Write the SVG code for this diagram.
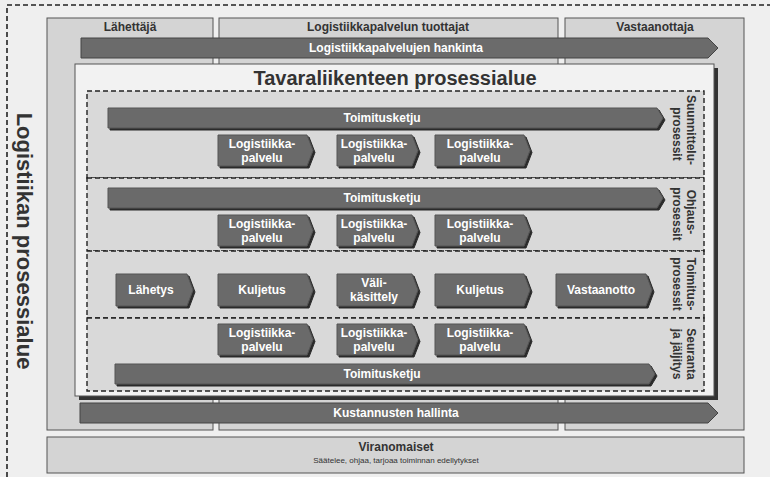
<svg xmlns="http://www.w3.org/2000/svg" width="770" height="477" viewBox="0 0 770 477">
<defs>
<style>
text{font-family:"Liberation Sans",Arial,sans-serif;}
.hdr{font-size:12px;font-weight:bold;fill:#333;text-anchor:middle;}
.wt{font-size:12px;font-weight:bold;fill:#fff;text-anchor:middle;}
.col{fill:#d4d4d4;stroke:#555;stroke-width:1;}
.arr{fill:#6b6b6b;stroke:#444;stroke-width:1;}
.box{fill:#6b6b6b;stroke:#555;stroke-width:1;filter:url(#ds);}
.sec{fill:#d9d9d9;stroke:#222;stroke-width:1.4;stroke-dasharray:5 3;}
.vl{font-size:12px;font-weight:bold;fill:#333;text-anchor:middle;}
</style>
<filter id="ds" x="-5%" y="-10%" width="115%" height="130%">
<feFlood flood-color="#2a2a2a"/>
<feComposite in2="SourceAlpha" operator="in"/>
<feOffset dx="2" dy="2"/>
<feMerge><feMergeNode/><feMergeNode in="SourceGraphic"/></feMerge>
</filter>
</defs>
<rect x="0" y="0" width="770" height="477" fill="#efefef"/>
<rect x="7" y="5" width="800" height="500" fill="none" stroke="#222" stroke-width="1.6" stroke-dasharray="5 3"/>
<g id="label-logistiikan">
<text transform="translate(17,241) rotate(90)" text-anchor="middle" font-size="22" font-weight="bold" fill="#333">Logistiikan prosessialue</text>
</g>
<g id="col-lahettaja">
<rect class="col" x="47" y="18" width="166" height="412"/>
<text class="hdr" x="130" y="31">Lähettäjä</text>
</g>
<g id="col-tuottajat">
<rect class="col" x="219" y="18" width="339" height="412"/>
<text class="hdr" x="388" y="31">Logistiikkapalvelun tuottajat</text>
</g>
<g id="col-vastaanottaja">
<rect class="col" x="565" y="18" width="179" height="412"/>
<text class="hdr" x="655" y="31">Vastaanottaja</text>
</g>
<g id="hankinta">
<polygon class="arr" points="81,38 708,38 718,48 708,58 81,58"/>
<text class="wt" x="396" y="52">Logistiikkapalvelujen hankinta</text>
</g>
<g id="panel">
<rect x="79" y="68" width="639" height="332" fill="#333"/>
<rect x="75" y="64" width="639" height="332" fill="#f2f2f2" stroke="#555" stroke-width="1"/>
<text x="395" y="85" text-anchor="middle" font-size="20" font-weight="bold" fill="#333">Tavaraliikenteen prosessialue</text>
</g>
<g id="sec-suunnittelu">
<rect class="sec" x="87" y="91" width="617" height="87"/>
<text class="vl" transform="translate(687,130) rotate(90)">Suunnittelu-</text>
<text class="vl" transform="translate(673,134) rotate(90)">prosessit</text>
</g>
<g id="sec-ohjaus">
<rect class="sec" x="87" y="178" width="617" height="73"/>
<text class="vl" transform="translate(687,212) rotate(90)">Ohjaus-</text>
<text class="vl" transform="translate(673,214) rotate(90)">prosessit</text>
</g>
<g id="sec-toimitus">
<rect class="sec" x="87" y="251" width="617" height="67"/>
<text class="vl" transform="translate(687,284) rotate(90)">Toimitus-</text>
<text class="vl" transform="translate(673,284) rotate(90)">prosessit</text>
</g>
<g id="sec-seuranta">
<rect class="sec" x="87" y="318" width="617" height="73"/>
<text class="vl" transform="translate(687,354) rotate(90)">Seuranta</text>
<text class="vl" transform="translate(673,354) rotate(90)">ja jäljitys</text>
</g>
<g id="toimitusketju-1">
<polygon class="box" points="108,108 657,108 663,118 657,128 108,128"/>
<text class="wt" x="382" y="122">Toimitusketju</text>
</g>
<g id="lp-1a">
<polygon class="box" points="218,135 307,135 313,150.5 307,166 218,166"/>
<text class="wt" x="262" y="148">Logistiikka-</text>
<text class="wt" x="262" y="162">palvelu</text>
</g>
<g id="lp-1b">
<polygon class="box" points="337,135 412,135 418,150.5 412,166 337,166"/>
<text class="wt" x="374" y="148">Logistiikka-</text>
<text class="wt" x="374" y="162">palvelu</text>
</g>
<g id="lp-1c">
<polygon class="box" points="435,135 524,135 530,150.5 524,166 435,166"/>
<text class="wt" x="480" y="148">Logistiikka-</text>
<text class="wt" x="480" y="162">palvelu</text>
</g>
<g id="toimitusketju-2">
<polygon class="box" points="108,188 657,188 663,198 657,208 108,208"/>
<text class="wt" x="382" y="202">Toimitusketju</text>
</g>
<g id="lp-2a">
<polygon class="box" points="218,215 307,215 313,230.5 307,246 218,246"/>
<text class="wt" x="262" y="228">Logistiikka-</text>
<text class="wt" x="262" y="242">palvelu</text>
</g>
<g id="lp-2b">
<polygon class="box" points="337,215 412,215 418,230.5 412,246 337,246"/>
<text class="wt" x="374" y="228">Logistiikka-</text>
<text class="wt" x="374" y="242">palvelu</text>
</g>
<g id="lp-2c">
<polygon class="box" points="435,215 524,215 530,230.5 524,246 435,246"/>
<text class="wt" x="480" y="228">Logistiikka-</text>
<text class="wt" x="480" y="242">palvelu</text>
</g>
<g id="lahetys">
<polygon class="box" points="116,274 187,274 193,290 187,306 116,306"/>
<text class="wt" x="151" y="294">Lähetys</text>
</g>
<g id="kuljetus-1">
<polygon class="box" points="218,274 307,274 313,290 307,306 218,306"/>
<text class="wt" x="262" y="294">Kuljetus</text>
</g>
<g id="valikasittely">
<polygon class="box" points="337,274 412,274 418,290 412,306 337,306"/>
<text class="wt" x="374" y="287">Väli-</text>
<text class="wt" x="374" y="301">käsittely</text>
</g>
<g id="kuljetus-2">
<polygon class="box" points="435,274 524,274 530,290 524,306 435,306"/>
<text class="wt" x="480" y="294">Kuljetus</text>
</g>
<g id="vastaanotto">
<polygon class="box" points="556,274 646,274 652,290 646,306 556,306"/>
<text class="wt" x="601" y="294">Vastaanotto</text>
</g>
<g id="lp-4a">
<polygon class="box" points="218,324 307,324 313,339.5 307,355 218,355"/>
<text class="wt" x="262" y="337">Logistiikka-</text>
<text class="wt" x="262" y="351">palvelu</text>
</g>
<g id="lp-4b">
<polygon class="box" points="337,324 412,324 418,339.5 412,355 337,355"/>
<text class="wt" x="374" y="337">Logistiikka-</text>
<text class="wt" x="374" y="351">palvelu</text>
</g>
<g id="lp-4c">
<polygon class="box" points="435,324 524,324 530,339.5 524,355 435,355"/>
<text class="wt" x="480" y="337">Logistiikka-</text>
<text class="wt" x="480" y="351">palvelu</text>
</g>
<g id="toimitusketju-4">
<polygon class="box" points="115,364 649,364 655,374 649,384 115,384"/>
<text class="wt" x="382" y="378">Toimitusketju</text>
</g>
<g id="kustannukset">
<polygon class="arr" points="80,403 708,403 718,413 708,423 80,423"/>
<text class="wt" x="396" y="417">Kustannusten hallinta</text>
</g>
<g id="viranomaiset">
<rect class="col" x="47" y="437" width="697" height="36"/>
<text class="hdr" x="396" y="451">Viranomaiset</text>
<text x="396" y="463" text-anchor="middle" font-size="8" fill="#333">Säätelee, ohjaa, tarjoaa toiminnan edellytykset</text>
</g>
<g id="connectors"></g>
</svg>
